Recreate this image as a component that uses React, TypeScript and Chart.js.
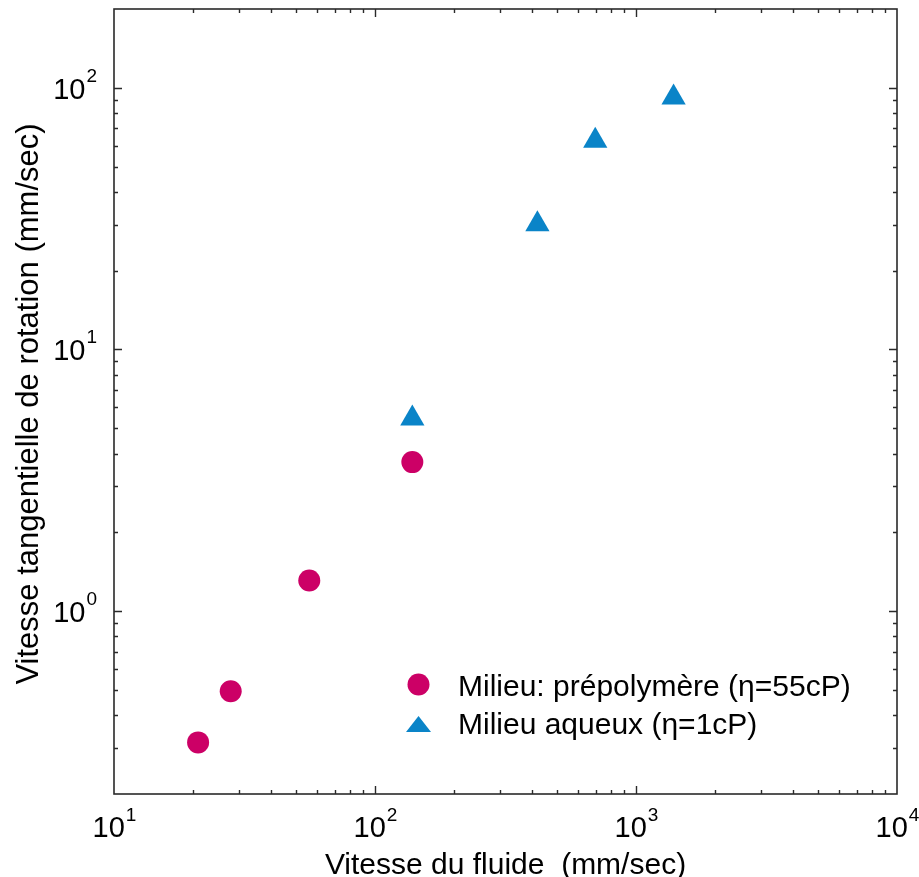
import React, { useEffect, useRef } from 'react';
import { Chart, registerables } from 'chart.js';
Chart.register(...registerables);

const seriesNames = ['Milieu: prépolymère (η=55cP)', 'Milieu aqueux (η=1cP)'];
const prepolymerX = [21, 28, 56, 139];
const prepolymerY = [0.315, 0.494, 1.31, 3.71];
const aqueousX = [139, 419, 698, 1393];
const aqueousY = [5.45, 30.1, 62.7, 91.8];
const xTickValues = [10, 100, 1000, 10000];
const xTickExponents = ['1', '2', '3', '4'];
const yTickValues = [1, 10, 100];
const yTickExponents = ['0', '1', '2'];
const xRange = [10, 10000];
const yRange = [0.2, 200];
const xTitle = 'Vitesse du fluide  (mm/sec)';
const yTitle = 'Vitesse tangentielle de rotation (mm/sec)';

const MAGENTA = '#cc0066';
const BLUE = '#0a84c8';
const FONT = '"Liberation Sans", Arial, Helvetica, sans-serif';

function minorTicks(min: number, max: number): number[] {
  const out: number[] = [];
  let d = Math.pow(10, Math.floor(Math.log10(min)));
  while (d < max) {
    for (let m = 2; m <= 9; m++) {
      const v = d * m;
      if (v > min * 1.0001 && v < max * 0.9999) out.push(v);
    }
    d *= 10;
  }
  return out;
}

const framePlugin = {
  id: 'frame',
  afterDatasetsDraw(chart: any) {
    const { ctx, chartArea: a, scales } = chart;
    const xs = scales.x;
    const ys = scales.y;
    ctx.save();
    ctx.strokeStyle = '#2a2a2a';
    ctx.lineWidth = 1.6;
    ctx.strokeRect(a.left, a.top, a.right - a.left, a.bottom - a.top);

    ctx.lineWidth = 1.4;
    const xMajor = xTickValues.filter((v) => v > xRange[0] && v < xRange[1]);
    const yMajor = yTickValues.filter((v) => v > yRange[0] && v < yRange[1]);
    const drawX = (vals: number[], len: number) => {
      vals.forEach((v) => {
        const px = Math.round(xs.getPixelForValue(v)) + 0.5;
        ctx.beginPath();
        ctx.moveTo(px, a.bottom);
        ctx.lineTo(px, a.bottom - len);
        ctx.moveTo(px, a.top);
        ctx.lineTo(px, a.top + len);
        ctx.stroke();
      });
    };
    const drawY = (vals: number[], len: number) => {
      vals.forEach((v) => {
        const py = Math.round(ys.getPixelForValue(v)) + 0.5;
        ctx.beginPath();
        ctx.moveTo(a.left, py);
        ctx.lineTo(a.left + len, py);
        ctx.moveTo(a.right, py);
        ctx.lineTo(a.right - len, py);
        ctx.stroke();
      });
    };
    drawX(xMajor, 8);
    drawX(minorTicks(xRange[0], xRange[1]), 4);
    drawY(yMajor, 8);
    drawY(minorTicks(yRange[0], yRange[1]), 4);

    // tick labels
    ctx.fillStyle = '#000';
    ctx.textBaseline = 'alphabetic';
    const bigFont = `29px ${FONT}`;
    const supFont = `19px ${FONT}`;
    xTickValues.forEach((v, i) => {
      const px = xs.getPixelForValue(v);
      ctx.font = bigFont;
      const w1 = ctx.measureText('10').width;
      ctx.font = supFont;
      const w2 = ctx.measureText(xTickExponents[i]).width;
      const x0 = px - (w1 + w2) / 2;
      ctx.font = bigFont;
      ctx.textAlign = 'left';
      ctx.fillText('10', x0, a.bottom + 43);
      ctx.font = supFont;
      ctx.fillText(xTickExponents[i], x0 + w1 + 1, a.bottom + 27);
    });
    yTickValues.forEach((v, i) => {
      const py = ys.getPixelForValue(v);
      ctx.font = supFont;
      const w2 = ctx.measureText(yTickExponents[i]).width;
      const right = a.left - 17;
      ctx.textAlign = 'left';
      ctx.fillText(yTickExponents[i], right - w2, py - 6);
      ctx.font = bigFont;
      ctx.textAlign = 'right';
      ctx.fillText('10', right - w2 - 1, py + 11);
    });

    // axis titles
    ctx.font = `30px ${FONT}`;
    ctx.textAlign = 'center';
    ctx.fillText(xTitle, (a.left + a.right) / 2, a.bottom + 80);
    ctx.save();
    ctx.translate(38, 404);
    ctx.rotate(-Math.PI / 2);
    ctx.font = `31px ${FONT}`;
    ctx.fillText(yTitle, 0, 0);
    ctx.restore();

    // legend
    const lx = 418.5;
    ctx.fillStyle = MAGENTA;
    ctx.beginPath();
    ctx.arc(lx, 684.5, 11, 0, Math.PI * 2);
    ctx.fill();
    ctx.fillStyle = BLUE;
    ctx.beginPath();
    ctx.moveTo(lx, 716);
    ctx.lineTo(lx + 12.5, 732);
    ctx.lineTo(lx - 12.5, 732);
    ctx.closePath();
    ctx.fill();
    ctx.fillStyle = '#000';
    ctx.textAlign = 'left';
    ctx.font = `30px ${FONT}`;
    ctx.fillText(chart.data.datasets[0].label, 458, 696);
    ctx.fillText(chart.data.datasets[1].label, 458, 734);
    ctx.restore();
  },
};

export default function App() {
  const ref = useRef<HTMLCanvasElement>(null);
  useEffect(() => {
    if (!ref.current) return;
    const chart = new Chart(ref.current, {
      type: 'scatter',
      data: {
        datasets: [
          {
            label: seriesNames[0],
            data: prepolymerX.map((x, i) => ({ x, y: prepolymerY[i] })),
            pointStyle: 'circle',
            pointRadius: 11,
            backgroundColor: MAGENTA,
            borderWidth: 0,
          },
          {
            label: seriesNames[1],
            data: aqueousX.map((x, i) => ({ x, y: aqueousY[i] })),
            pointStyle: 'triangle',
            pointRadius: 14,
            backgroundColor: BLUE,
            borderWidth: 0,
          },
        ],
      },
      options: {
        responsive: false,
        animation: false,
        layout: { autoPadding: false, padding: { left: 114, top: 9, right: 22, bottom: 83 } },
        scales: {
          x: { type: 'logarithmic', min: xRange[0], max: xRange[1], display: false },
          y: { type: 'logarithmic', min: yRange[0], max: yRange[1], display: false },
        },
        plugins: { legend: { display: false }, tooltip: { enabled: false } },
      },
      plugins: [framePlugin],
    });
    return () => chart.destroy();
  }, []);
  return (
    <div style={{ position: 'absolute', left: 0, top: 0, width: 919, height: 877, background: '#fff' }}>
      <canvas ref={ref} width={919} height={877} />
    </div>
  );
}
